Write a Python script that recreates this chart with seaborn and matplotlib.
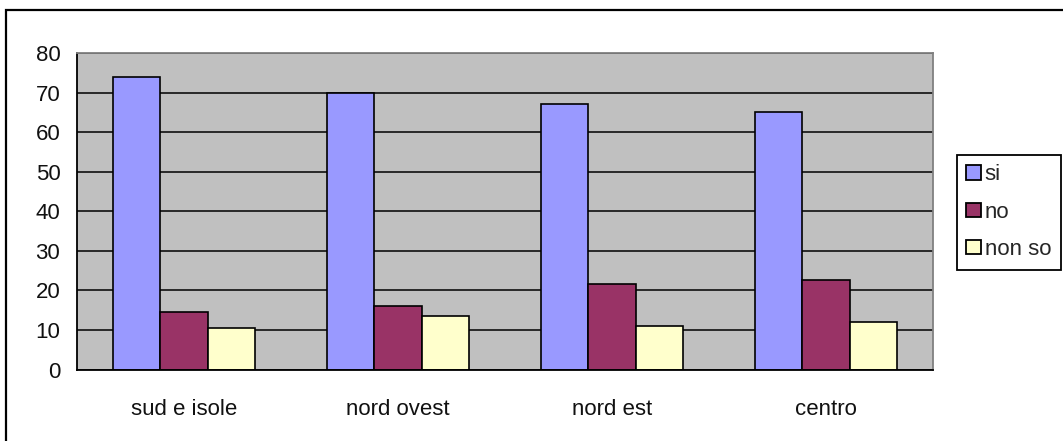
import matplotlib
matplotlib.use("Agg")
import matplotlib.pyplot as plt
from matplotlib.patches import Rectangle, Patch
import pandas as pd
import seaborn as sns

regions = ["sud e isole", "nord ovest", "nord est", "centro"]
answers = ["si", "no", "non so"]
si_vals = [74.0, 70.0, 67.0, 65.0]
no_vals = [14.5, 16.0, 21.5, 22.7]
nonso_vals = [10.5, 13.5, 11.0, 12.0]
colors = ["#9999FF", "#993366", "#FFFFCC"]

df = pd.DataFrame({
    "region": regions * 3,
    "answer": ["si"] * 4 + ["no"] * 4 + ["non so"] * 4,
    "value": si_vals + no_vals + nonso_vals,
})

sns.set_style("white")
plt.rcParams["font.family"] = ["Liberation Sans", "DejaVu Sans"]
FS = 16

W, H = 1063, 441
fig = plt.figure(figsize=(W / 100, H / 100), dpi=100)
ax = fig.add_axes([77 / W, 1 - 369.5 / H, (933 - 77) / W, (369.5 - 53) / H])

sns.barplot(data=df, x="region", y="value", hue="answer", order=regions, hue_order=answers,
            palette=colors, width=0.667, edgecolor="black", linewidth=1.2, saturation=1,
            legend=False, ax=ax)

ax.set_facecolor("#C0C0C0")
ax.set_ylim(0, 80)
ax.set_xlim(-0.5, 3.5)
ax.set_yticks(range(0, 81, 10))
ax.yaxis.grid(True, color="black", linewidth=1.1)
ax.set_axisbelow(True)
ax.set_xlabel("")
ax.set_ylabel("")

# category boundary ticks, labels centered between them
ax.set_xticks([-0.5, 0.5, 1.5, 2.5, 3.5])
ax.set_xticklabels([])
ax.set_xticks(range(len(regions)), minor=True)
ax.set_xticklabels(regions, minor=True)
ax.tick_params(axis="x", which="major", direction="out", length=5, width=1.2, color="black")
ax.tick_params(axis="x", which="minor", length=0, pad=21, labelsize=FS, labelcolor="#111111")
ax.tick_params(axis="y", direction="out", length=5, width=1.2, color="black", pad=7,
               labelsize=FS, labelcolor="#111111")

for side in ["left", "bottom"]:
    ax.spines[side].set_color("black")
    ax.spines[side].set_linewidth(1.3)
for side in ["top", "right"]:
    ax.spines[side].set_color("#808080")
    ax.spines[side].set_linewidth(1.3)

handles = [Patch(facecolor=c, edgecolor="black", linewidth=1.3) for c in colors]
leg = fig.legend(handles, answers, loc="upper left", bbox_to_anchor=(957 / W, 1 - 155 / H),
                 bbox_transform=fig.transFigure, frameon=True, fancybox=False,
                 edgecolor="black", framealpha=1, fontsize=FS, handlelength=0.68,
                 handleheight=0.6, handletextpad=0.15, labelspacing=0.74, borderpad=0.42,
                 borderaxespad=0)
leg.get_frame().set_linewidth(1.3)

fig.patches.append(Rectangle((6 / W, -0.1), 1.2, 1 - 10 / H + 0.1, transform=fig.transFigure,
                             fill=False, edgecolor="black", linewidth=1.6))

fig.savefig("out.png", dpi=100, facecolor="white")
